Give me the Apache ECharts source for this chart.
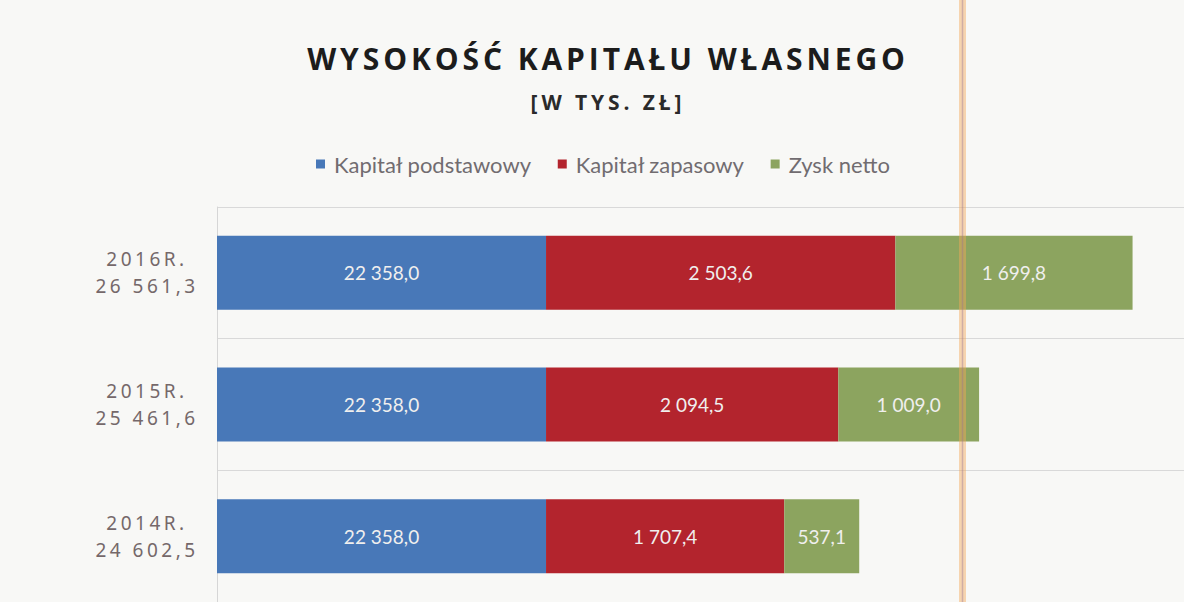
<!DOCTYPE html>
<html lang="pl">
<head>
<meta charset="utf-8">
<title>Wysokość kapitału własnego</title>
<script src="https://cdn.jsdelivr.net/npm/echarts@6/dist/echarts.min.js"></script>
<style>
  html, body { margin: 0; padding: 0; background: #f8f8f6; }
  #chart { width: 1184px; height: 602px; }
  /* rozstrzelone litery w tytule i opisach osi */
  #chart text[style*="Open Sans"] { letter-spacing: 3.9px; }
  #chart text[style*="Noto Sans"] { letter-spacing: 3.5px; }
</style>
</head>
<body>
<div id="chart"></div>
<script>
// dane
const categories = ['2016R.\n26 561,3', '2015R.\n25 461,6', '2014R.\n24 602,5'];
const kapitalPodstawowy = [22358.0, 22358.0, 22358.0];
const kapitalZapasowy = [2503.6, 2094.5, 1707.4];
const zyskNetto = [1699.8, 1009.0, 537.1];

// 22358.0 -> "22 358,0"
function fmt(v) {
  let parts = v.toFixed(1).split('.');
  parts[0] = parts[0].replace(/\B(?=(\d{3})+(?!\d))/g, ' ');
  return parts.join(',');
}

const barLabel = {
  show: true,
  position: 'inside',
  color: '#f0efee',
  fontFamily: 'Lato',
  fontSize: 19,
  formatter: (p) => fmt(p.value)
};

let myChart = echarts.init(document.getElementById('chart'), null, { renderer: 'svg' });
myChart.setOption({
  backgroundColor: '#f8f8f6',
  animation: false,
  title: [
    {
      text: 'WYSOKOŚĆ KAPITAŁU WŁASNEGO',
      left: 603,
      textAlign: 'center',
      top: 38,
      textStyle: { fontFamily: 'Open Sans', fontWeight: 'bold', fontSize: 30, color: '#1c1c1c' }
    },
    {
      text: '[W TYS. ZŁ]',
      left: 603,
      textAlign: 'center',
      top: 86,
      textStyle: { fontFamily: 'Open Sans', fontWeight: 'bold', fontSize: 21, color: '#2a2a2a' }
    }
  ],
  legend: {
    top: 148,
    left: 311,
    icon: 'rect',
    itemWidth: 9,
    itemHeight: 9,
    itemGap: 26,
    textStyle: { fontFamily: 'Lato', fontSize: 22, color: '#716c70', padding: [0, 0, 0, 4] }
  },
  grid: {
    left: 217,
    right: 0,
    top: 207,
    bottom: -4
  },
  xAxis: {
    type: 'value',
    min: 20000,
    max: 26930,
    show: false
  },
  yAxis: {
    type: 'category',
    data: categories,
    inverse: true,
    axisLine: { show: true, lineStyle: { color: '#d6d6d6' } },
    axisTick: { show: false },
    splitLine: { show: true, lineStyle: { color: '#d9d9d9' } },
    axisLabel: {
      margin: 70,
      align: 'center',
      fontFamily: 'Noto Sans',
      fontSize: 19,
      lineHeight: 27,
      color: '#75686a'
    }
  },
  series: [
    {
      name: 'Kapitał podstawowy',
      type: 'bar',
      stack: 'kapital',
      barWidth: 74,
      data: kapitalPodstawowy,
      itemStyle: { color: '#4878b8' },
      label: barLabel
    },
    {
      name: 'Kapitał zapasowy',
      type: 'bar',
      stack: 'kapital',
      data: kapitalZapasowy,
      itemStyle: { color: '#b3242d' },
      label: barLabel
    },
    {
      name: 'Zysk netto',
      type: 'bar',
      stack: 'kapital',
      data: zyskNetto,
      itemStyle: { color: '#8ca45f' },
      label: barLabel
    }
  ],
  // pomarańczowy pas ze skanu
  graphic: [
    {
      type: 'rect',
      z: 100,
      shape: { x: 959, y: 0, width: 7, height: 602 },
      style: { fill: 'rgba(244,168,88,0.45)' }
    },
    {
      type: 'line',
      z: 101,
      shape: { x1: 962.5, y1: 0, x2: 962.5, y2: 602 },
      style: { stroke: 'rgba(150,115,150,0.4)', lineWidth: 1.5 }
    }
  ]
});
</script>
</body>
</html>
